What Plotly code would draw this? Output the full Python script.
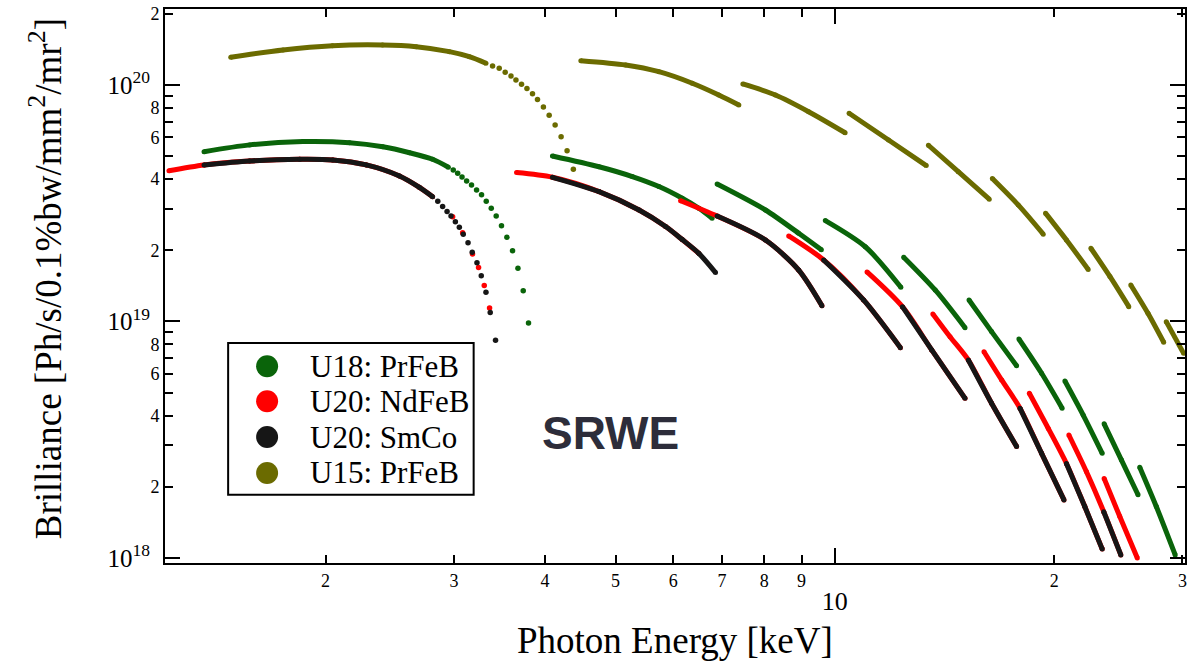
import plotly.graph_objects as go

# ---------------- data ----------------
# Photon energy [keV] and brilliance [1e19 Ph/s/0.1%bw/mm^2/mr^2], one list per harmonic

# U15: PrFeB (olive)
U15_E = [
    [1.482, 1.748, 2.044, 2.394, 2.663, 2.958, 3.150, 3.320],
    [4.481, 5.163, 5.735, 6.372, 6.930, 7.383],
    [7.477, 8.288, 9.205, 10.33],
    [10.46, 11.85, 13.35],
    [13.44, 14.77, 16.29],
    [16.45, 17.85, 19.32],
    [19.46, 20.79, 22.27],
    [22.46, 23.85, 25.32],
    [25.48, 26.90, 28.27],
    [28.50, 30.11],
]
U15_B = [
    [13.10, 14.06, 14.66, 14.76, 14.52, 13.83, 13.17, 12.35],
    [12.67, 12.15, 11.38, 10.17, 9.07, 8.23],
    [10.10, 9.07, 7.71, 6.28],
    [7.59, 5.85, 4.56],
    [5.56, 4.30, 3.29],
    [4.02, 3.11, 2.34],
    [2.87, 2.21, 1.66],
    [2.04, 1.55, 1.155],
    [1.427, 1.083, 0.817],
    [0.998, 0.733],
]
U15_tail_E = [3.390, 3.462, 3.528, 3.593, 3.650, 3.715, 3.779, 3.846, 3.907, 3.981, 4.054, 4.131, 4.210, 4.290, 4.376]
U15_tail_B = [12.03, 11.77, 11.31, 10.92, 10.50, 10.07, 9.65, 9.19, 8.67, 8.07, 7.44, 6.77, 6.04, 5.27, 4.40]

# U18: PrFeB (green)
U18_E = [
    [1.362, 1.573, 1.862, 2.157, 2.397, 2.608, 2.805, 2.948],
    [4.096, 4.746, 5.272, 5.735, 6.173, 6.507, 6.785],
    [6.893, 8.030, 8.920, 9.583],
    [9.703, 11.01, 12.32],
    [12.43, 13.73, 15.09],
    [15.28, 16.41, 17.76],
    [17.89, 19.22, 20.51],
    [20.69, 21.92, 23.28],
    [23.42, 24.73, 26.07],
    [26.21, 27.62, 29.32],
]
U18_B = [
    [5.22, 5.58, 5.76, 5.70, 5.48, 5.17, 4.85, 4.49],
    [5.01, 4.51, 4.10, 3.72, 3.32, 3.01, 2.73],
    [3.81, 2.96, 2.36, 2.01],
    [2.67, 2.07, 1.395],
    [1.87, 1.359, 0.941],
    [1.233, 0.906, 0.650],
    [0.843, 0.604, 0.430],
    [0.560, 0.402, 0.277],
    [0.369, 0.260, 0.185],
    [0.242, 0.165, 0.103],
]
U18_tail_E = [2.994, 3.036, 3.078, 3.123, 3.172, 3.223, 3.274, 3.323, 3.376, 3.429, 3.487, 3.547, 3.611, 3.673, 3.735, 3.798]
U18_tail_B = [4.37, 4.23, 4.08, 3.93, 3.78, 3.60, 3.43, 3.22, 3.01, 2.79, 2.54, 2.27, 1.99, 1.68, 1.35, 0.986]

# U20: NdFeB (red)
U20N_E = [
    [1.219, 1.362, 1.573, 1.843, 2.046, 2.275, 2.526, 2.690, 2.805],
    [3.657, 4.096, 4.746, 5.386, 5.857, 6.173, 6.507],
    [6.141, 6.893, 8.030, 8.920, 9.601],
    [8.643, 9.652, 10.95, 12.30],
    [11.07, 12.38, 13.58, 15.09],
    [13.63, 14.39, 15.25, 16.41, 17.76],
    [16.02, 16.94, 17.95, 19.22, 20.63],
    [18.49, 19.63, 20.79, 22.03, 23.28],
    [20.95, 22.14, 23.39, 24.69],
    [23.42, 24.60, 26.01],
]
U20N_B = [
    [4.34, 4.59, 4.77, 4.85, 4.82, 4.59, 4.12, 3.69, 3.37],
    [4.26, 4.07, 3.54, 2.96, 2.52, 2.22, 1.94],
    [3.24, 2.79, 2.21, 1.65, 1.166],
    [2.30, 1.82, 1.233, 0.775],
    [1.62, 1.155, 0.758, 0.473],
    [1.076, 0.862, 0.687, 0.451, 0.296],
    [0.745, 0.566, 0.430, 0.277, 0.176],
    [0.497, 0.353, 0.251, 0.165, 0.109],
    [0.331, 0.232, 0.157, 0.103],
    [0.217, 0.150, 0.100],
]
U20N_tail_E = [2.988, 3.084, 3.182, 3.243, 3.302, 3.358]
U20N_tail_B = [2.77, 2.37, 1.93, 1.69, 1.42, 1.14]

# U20: SmCo (black)
U20S_E = [
    [1.362, 1.573, 1.843, 2.046, 2.275, 2.526, 2.690, 2.805],
    [4.096, 4.746, 5.386, 5.857, 6.173, 6.507, 6.858],
    [6.893, 8.030, 8.920, 9.601],
    [9.652, 10.95, 12.30],
    [12.38, 13.58, 15.09],
    [15.25, 16.41, 17.76],
    [17.95, 19.22, 20.63],
    [20.79, 22.03, 23.28],
    [23.39, 24.69],
]
U20S_B = [
    [4.59, 4.77, 4.85, 4.82, 4.59, 4.12, 3.69, 3.37],
    [4.07, 3.54, 2.96, 2.52, 2.22, 1.94, 1.61],
    [2.79, 2.21, 1.65, 1.166],
    [1.82, 1.233, 0.775],
    [1.155, 0.758, 0.473],
    [0.687, 0.451, 0.296],
    [0.430, 0.277, 0.176],
    [0.251, 0.165, 0.109],
    [0.157, 0.103],
]
U20S_tail_E = [2.851, 2.895, 2.936, 2.973, 3.014, 3.052, 3.090, 3.137, 3.179, 3.227, 3.271, 3.320, 3.365, 3.422]
U20S_tail_B = [3.22, 3.06, 2.92, 2.79, 2.64, 2.50, 2.34, 2.15, 1.96, 1.77, 1.56, 1.33, 1.09, 0.833]

SERIES_NAMES = ["U18: PrFeB", "U20: NdFeB", "U20: SmCo", "U15: PrFeB"]
UNIT = 1e19

X_MINOR_TICKS = [2, 3, 4, 5, 6, 7, 8, 9, 20, 30]
X_MINOR_TEXT = ["2", "3", "4", "5", "6", "7", "8", "9", "2", "3"]
X_MAJOR_TICKS = [10]
X_MAJOR_TEXT = ["10"]
Y_MAJOR_TICKS = [1e18, 1e19, 1e20]
Y_MAJOR_TEXT = ["10<sup>18</sup>", "10<sup>19</sup>", "10<sup>20</sup>"]
Y_LABELED_MULT = [2, 4, 6, 8]
Y_UNLABELED_MULT = [3, 5, 7, 9]

X_RANGE = [0.0806, 1.4806]      # log10 keV
Y_RANGE = [17.9787, 20.3212]    # log10 brilliance

# ---------------- styles ----------------
GREEN = "#0a640a"
RED = "#ff0000"
BLACK = "#161616"
OLIVE = "#6b6b00"
SERIF = "Liberation Serif"
LW = 5


def seg_xy(E_list, B_list):
    xs, ys = [], []
    for e, b in zip(E_list, B_list):
        xs += list(e) + [None]
        ys += [v * UNIT for v in b] + [None]
    return xs, ys


fig = go.Figure()


def add_series(E_list, B_list, tail_E, tail_B, color):
    xs, ys = seg_xy(E_list, B_list)
    fig.add_trace(go.Scatter(
        x=xs, y=ys, mode="lines+markers", connectgaps=False,
        line=dict(color=color, width=LW, shape="spline", smoothing=0.8),
        marker=dict(color=color, size=LW),
        showlegend=False, hoverinfo="skip"))
    if tail_E:
        fig.add_trace(go.Scatter(
            x=tail_E, y=[v * UNIT for v in tail_B], mode="markers",
            marker=dict(color=color, size=5.5),
            showlegend=False, hoverinfo="skip"))


add_series(U15_E, U15_B, U15_tail_E, U15_tail_B, OLIVE)
add_series(U18_E, U18_B, U18_tail_E, U18_tail_B, GREEN)
add_series(U20N_E, U20N_B, U20N_tail_E, U20N_tail_B, RED)
add_series(U20S_E, U20S_B, U20S_tail_E, U20S_tail_B, BLACK)

# dummy traces so the overlay axes exist
fig.add_trace(go.Scatter(x=[None], y=[None], xaxis="x2", yaxis="y", showlegend=False, hoverinfo="skip"))
fig.add_trace(go.Scatter(x=[None], y=[None], xaxis="x", yaxis="y2", showlegend=False, hoverinfo="skip"))

# y minor tick values / labels
y_lab_vals, y_lab_text, y_unl_vals = [], [], []
for dec in [1e18, 1e19]:
    for m in Y_LABELED_MULT:
        y_lab_vals.append(m * dec)
        y_lab_text.append(str(m))
    for m in Y_UNLABELED_MULT:
        y_unl_vals.append(m * dec)
y_lab_vals.append(2e20)
y_lab_text.append("2")

axis_common = dict(type="log", showgrid=False, zeroline=False, showline=True,
                   linecolor="black", linewidth=2, mirror="ticks",
                   ticks="inside", tickcolor="black", tickwidth=1.5)

fig.update_layout(
    width=1190, height=667,
    margin=dict(l=165, r=3, t=9, b=104),
    paper_bgcolor="white", plot_bgcolor="white",
    showlegend=False,
    xaxis=dict(range=X_RANGE, tickmode="array", tickvals=X_MINOR_TICKS, ticktext=X_MINOR_TEXT,
               ticklen=8, tickfont=dict(family=SERIF, size=18, color="black"), **axis_common),
    xaxis2=dict(range=X_RANGE, overlaying="x", anchor="y", side="bottom", tickmode="array",
                tickvals=X_MAJOR_TICKS, ticktext=X_MAJOR_TEXT, ticklen=15, ticklabelstandoff=14,
                tickfont=dict(family=SERIF, size=26, color="black"), **axis_common),
    yaxis=dict(range=Y_RANGE, tickmode="array", tickvals=y_lab_vals, ticktext=y_lab_text,
               ticklen=8, tickfont=dict(family=SERIF, size=18, color="black"),
               minor=dict(tickmode="array", tickvals=y_unl_vals, ticklen=8, ticks="inside",
                          tickcolor="black", tickwidth=1.5, showgrid=False),
               **axis_common),
    yaxis2=dict(range=Y_RANGE, overlaying="y", anchor="x", side="left", tickmode="array",
                tickvals=Y_MAJOR_TICKS, ticktext=Y_MAJOR_TEXT, ticklen=15, ticklabelstandoff=8,
                tickfont=dict(family=SERIF, size=25, color="black"), **axis_common),
)

# axis titles and label
fig.add_annotation(text="Photon Energy [keV]", xref="paper", yref="paper", x=0.5, y=-0.139,
                   xanchor="center", yanchor="middle", showarrow=False,
                   font=dict(family=SERIF, size=37, color="black"))
fig.add_annotation(text="Brilliance [Ph/s/0.1%bw/mm<sup>2</sup>/mr<sup>2</sup>]",
                   xref="paper", yref="paper", x=-0.1174, y=0.5126, textangle=-90,
                   xanchor="center", yanchor="middle", showarrow=False,
                   font=dict(family=SERIF, size=37, color="black"))
fig.add_annotation(text="<b>SRWE</b>", xref="paper", yref="paper", x=0.4364, y=0.2347,
                   xanchor="center", yanchor="middle", showarrow=False,
                   font=dict(family="Liberation Sans", size=46, color="#2d2d3a"))

# manual legend
fig.add_shape(type="rect", xref="paper", yref="paper", x0=0.0619, x1=0.3026, y0=0.1233, y1=0.3971,
              line=dict(color="black", width=2), fillcolor="white", layer="above")
legend_colors = [GREEN, RED, BLACK, OLIVE]
legend_y = [0.3551, 0.2919, 0.2274, 0.1625]
for name, col, yy in zip(SERIES_NAMES, legend_colors, legend_y):
    fig.add_shape(type="circle", xref="paper", yref="paper", xsizemode="pixel", ysizemode="pixel",
                  xanchor=0.1001, yanchor=yy, x0=-11, x1=11, y0=-11, y1=11,
                  fillcolor=col, line=dict(color=col, width=0), layer="above")
    fig.add_annotation(text=name, xref="paper", yref="paper", x=0.1402, y=yy,
                       xanchor="left", yanchor="middle", showarrow=False,
                       font=dict(family=SERIF, size=31, color="black"))

fig.write_html("out.html")
